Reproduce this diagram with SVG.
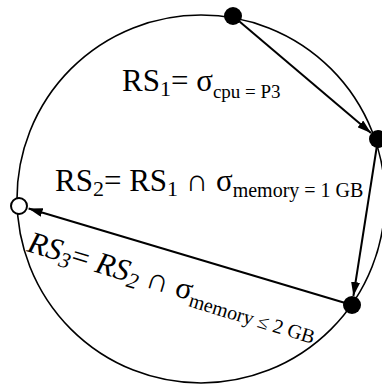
<svg xmlns="http://www.w3.org/2000/svg" width="382" height="387" viewBox="0 0 382 387">
<style>
.t{font-family:"Liberation Serif","Times New Roman",serif;fill:#000}
.ring{fill:none;stroke:#000;stroke-width:1.6}
.edge{fill:none;stroke:#000;stroke-width:2}
.dot{fill:#000}
.open{fill:#fff;stroke:#000;stroke-width:2}
</style>
<defs>
<marker id="ah" viewBox="0 0 14 9" refX="14" refY="4.5" markerWidth="14" markerHeight="9" markerUnits="userSpaceOnUse" orient="auto">
<path d="M0,0 L14,4.5 L0,9 Z" fill="#000"/>
</marker>
</defs>
<rect width="382" height="387" fill="#fff"/>
<circle class="ring" cx="201" cy="199" r="184"/>
<g id="connectors">
<line class="edge" x1="233" y1="16" x2="371" y2="133" marker-end="url(#ah)"/>
<line class="edge" x1="378" y1="139" x2="353.4" y2="296" marker-end="url(#ah)"/>
<line class="edge" x1="352" y1="305" x2="28.6" y2="208.5" marker-end="url(#ah)"/>
</g>
<g id="n1"><circle class="dot" cx="233" cy="16" r="9"/></g>
<g id="n2"><circle class="dot" cx="378" cy="139" r="9"/></g>
<g id="n3"><circle class="dot" cx="352" cy="305" r="9"/></g>
<g id="n4"><circle class="open" cx="19" cy="206" r="8"/></g>
<g id="labels">
<text class="t" x="122" y="91" font-size="31">RS<tspan font-size="22" dy="5">1</tspan><tspan dy="-5">= σ</tspan><tspan font-size="19" dy="7">cpu = P3</tspan></text>
<text class="t" x="55" y="191" font-size="31">RS<tspan font-size="22" dy="5">2</tspan><tspan dy="-5">= RS</tspan><tspan font-size="22" dy="5">1</tspan><tspan dy="-5"> ∩ σ</tspan><tspan font-size="20" dy="6">memory = 1 GB</tspan></text>
<text class="t" transform="translate(26,251) rotate(16.8)" font-size="31"><tspan font-style="italic">RS</tspan><tspan font-size="22" dy="5" font-style="italic">3</tspan><tspan dy="-5">= </tspan><tspan font-style="italic">RS</tspan><tspan font-size="22" dy="5" font-style="italic">2</tspan><tspan dy="-5"> ∩ σ</tspan><tspan font-size="20" dy="6">memory ≤ 2 GB</tspan></text>
</g>
</svg>
